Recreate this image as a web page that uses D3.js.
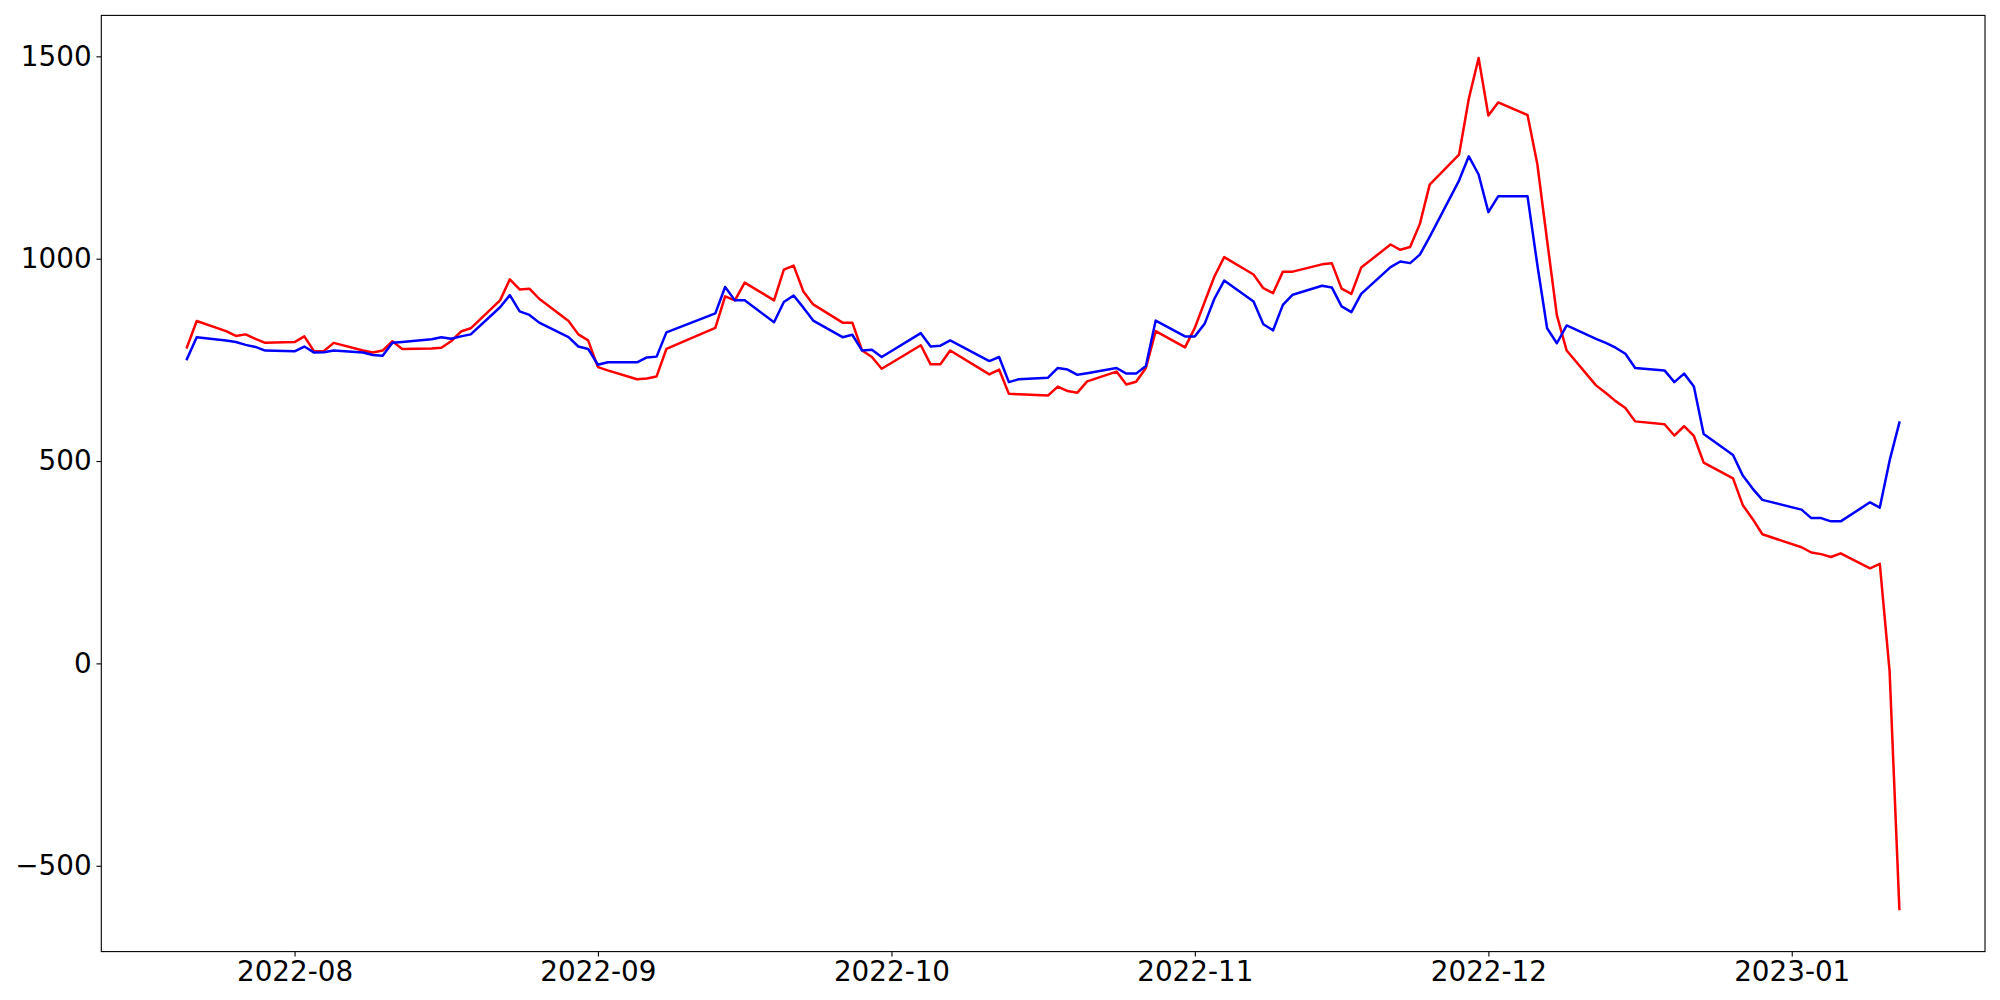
<!DOCTYPE html>
<html>
<head>
<meta charset="utf-8">
<script src="https://cdn.jsdelivr.net/npm/d3@7"></script>
<style>
  html, body { margin: 0; padding: 0; background: #fff; }
  svg { display: block; }
  text { font-family: "DejaVu Sans", sans-serif; }
</style>
</head>
<body>
<svg id="chart" width="2000" height="1000"></svg>
<script>
const dates = [
  "2022-07-21","2022-07-22","2022-07-25","2022-07-26","2022-07-27","2022-07-28","2022-07-29",
  "2022-08-01","2022-08-02","2022-08-03","2022-08-04","2022-08-05","2022-08-08","2022-08-09",
  "2022-08-10","2022-08-11","2022-08-12","2022-08-15","2022-08-16","2022-08-17","2022-08-18",
  "2022-08-19","2022-08-22","2022-08-23","2022-08-24","2022-08-25","2022-08-26","2022-08-29",
  "2022-08-30","2022-08-31","2022-09-01","2022-09-02","2022-09-05","2022-09-06","2022-09-07",
  "2022-09-08","2022-09-13","2022-09-14","2022-09-15","2022-09-16","2022-09-19","2022-09-20",
  "2022-09-21","2022-09-22","2022-09-23","2022-09-26","2022-09-27","2022-09-28","2022-09-29",
  "2022-09-30","2022-10-04","2022-10-05","2022-10-06","2022-10-07","2022-10-11","2022-10-12",
  "2022-10-13","2022-10-14","2022-10-17","2022-10-18","2022-10-19","2022-10-20","2022-10-21",
  "2022-10-24","2022-10-25","2022-10-26","2022-10-27","2022-10-28","2022-10-31","2022-11-01",
  "2022-11-02","2022-11-03","2022-11-04","2022-11-07","2022-11-08","2022-11-09","2022-11-10",
  "2022-11-11","2022-11-14","2022-11-15","2022-11-16","2022-11-17","2022-11-18","2022-11-21",
  "2022-11-22","2022-11-23","2022-11-24","2022-11-25","2022-11-28","2022-11-29","2022-11-30",
  "2022-12-01","2022-12-02","2022-12-05","2022-12-06","2022-12-07","2022-12-08","2022-12-09",
  "2022-12-12","2022-12-13","2022-12-14","2022-12-15","2022-12-16","2022-12-19","2022-12-20",
  "2022-12-21","2022-12-22","2022-12-23","2022-12-26","2022-12-27","2022-12-28","2022-12-29",
  "2023-01-02","2023-01-03","2023-01-04","2023-01-05","2023-01-06","2023-01-09","2023-01-10",
  "2023-01-11","2023-01-12"
];

const redSeries = [
  781, 846, 821, 809, 813, 802, 792,
  794, 808, 771, 772, 792, 773, 768,
  773, 796, 777, 778, 780, 796, 820,
  828, 897, 949, 924, 926, 901, 846,
  813, 798, 732, 724, 702, 704, 709,
  777, 829, 907, 897, 941, 897, 973,
  983, 919, 887, 842, 842, 773, 757,
  728, 786, 739, 739, 773, 714, 726,
  666, 665, 662, 684, 673, 669, 697,
  721, 689, 696, 730, 821, 781, 829,
  893, 956, 1004, 961, 927, 915, 968,
  968, 986, 989, 926, 913, 978, 1035,
  1022, 1029, 1086, 1183, 1257, 1395, 1496,
  1354, 1386, 1355, 1234, 1045, 860, 773,
  687, 668, 648, 631, 598, 591, 563,
  586, 562, 496, 457, 391, 357, 319,
  287, 274, 270, 263, 272, 235, 246,
  -19, -607
];

const blueSeries = [
  752, 806, 798, 794, 787, 782, 773,
  771, 783, 768, 769, 773, 768, 762,
  760, 792, 794, 801, 806, 802, 808,
  813, 880, 910, 870, 861, 842, 806,
  783, 777, 738, 744, 744, 756, 758,
  818, 865, 930, 897, 897, 843, 893,
  909, 879, 847, 806, 812, 773, 775,
  757, 816, 783, 785, 798, 747, 757,
  695, 702, 706, 730, 726, 713, 717,
  730, 716, 716, 735, 847, 808, 808,
  839, 901, 946, 894, 838, 823, 886,
  911, 933, 929, 882, 868, 913, 979,
  993, 989, 1010, 1054, 1193, 1253, 1208,
  1115, 1154, 1154, 985, 828, 791, 835,
  802, 792, 780, 765, 730, 724, 695,
  716, 684, 567, 515, 464, 432, 404,
  380, 359, 359, 351, 351, 398, 385,
  501, 595
];

const yTickValues = [-500, 0, 500, 1000, 1500];

const parse = d3.utcParse("%Y-%m-%d");
const xs = dates.map(parse);

const W = 2000, H = 1000;
const plot = { left: 101.3, right: 1985, top: 15.4, bottom: 951.6 };

const svg = d3.select("#chart");
svg.append("rect").attr("width", W).attr("height", H).attr("fill", "#fff");

// matplotlib-like 5% margins
const xExt = d3.extent(xs);
const xSpan = xExt[1] - xExt[0];
const x = d3.scaleUtc()
  .domain([new Date(+xExt[0] - 0.05 * xSpan), new Date(+xExt[1] + 0.05 * xSpan)])
  .range([plot.left, plot.right]);

const allVals = redSeries.concat(blueSeries);
const yExt = d3.extent(allVals);
const ySpan = yExt[1] - yExt[0];
const y = d3.scaleLinear()
  .domain([yExt[0] - 0.05 * ySpan, yExt[1] + 0.05 * ySpan])
  .range([plot.bottom, plot.top]);

const fontSize = 27.8;
const tickLen = 4.86;
const pad = 4.86;

// lines
const line = d3.line()
  .x((d, i) => x(xs[i]))
  .y(d => y(d));

svg.append("path")
  .datum(redSeries)
  .attr("d", line)
  .attr("fill", "none")
  .attr("stroke", "#ff0000")
  .attr("stroke-width", 2.5)
  .attr("stroke-linejoin", "round")
  .attr("stroke-linecap", "square");

svg.append("path")
  .datum(blueSeries)
  .attr("d", line)
  .attr("fill", "none")
  .attr("stroke", "#0000ff")
  .attr("stroke-width", 2.5)
  .attr("stroke-linejoin", "round")
  .attr("stroke-linecap", "square");

// frame
svg.append("rect")
  .attr("x", plot.left).attr("y", plot.top)
  .attr("width", plot.right - plot.left)
  .attr("height", plot.bottom - plot.top)
  .attr("fill", "none")
  .attr("stroke", "#000")
  .attr("stroke-width", 1.1);

// x axis
const xAxis = d3.axisBottom(x)
  .ticks(d3.utcMonth.every(1))
  .tickFormat(d3.utcFormat("%Y-%m"))
  .tickSizeInner(tickLen)
  .tickSizeOuter(0)
  .tickPadding(pad);

const gx = svg.append("g")
  .attr("transform", `translate(0,${plot.bottom})`)
  .call(xAxis);
gx.select(".domain").remove();
gx.selectAll(".tick line").attr("stroke", "#000").attr("stroke-width", 1.1);
gx.selectAll(".tick text")
  .attr("fill", "#000")
  .style("font-size", fontSize + "px")
  .style("font-family", "'DejaVu Sans', sans-serif");

// y axis
const yAxis = d3.axisLeft(y)
  .tickValues(yTickValues)
  .tickFormat(d => d < 0 ? "\u2212" + Math.abs(d) : String(d))
  .tickSizeInner(tickLen)
  .tickSizeOuter(0)
  .tickPadding(pad);

const gy = svg.append("g")
  .attr("transform", `translate(${plot.left},0)`)
  .call(yAxis);
gy.select(".domain").remove();
gy.selectAll(".tick line").attr("stroke", "#000").attr("stroke-width", 1.1);
gy.selectAll(".tick text")
  .attr("fill", "#000")
  .style("font-size", fontSize + "px")
  .style("font-family", "'DejaVu Sans', sans-serif");
</script>
</body>
</html>
